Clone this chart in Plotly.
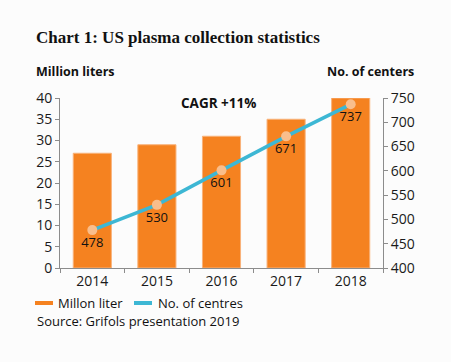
import plotly.graph_objects as go

years = ["2014", "2015", "2016", "2017", "2018"]
million_liters = [27, 29, 31, 35, 40]
centers = [478, 530, 601, 671, 737]
left_ticks = [0, 5, 10, 15, 20, 25, 30, 35, 40]
right_ticks = [400, 450, 500, 550, 600, 650, 700, 750]

ORANGE = "#F58220"
BLUE = "#3DB7D4"
PEACH = "#F9BE8C"
GREY = "#8C8C8C"
FONT = "Open Sans"

fig = go.Figure()
fig.add_trace(go.Bar(
    x=years, y=million_liters, name="Millon liter",
    marker=dict(color=ORANGE, line=dict(color="#F9B27A", width=1)),
    width=0.59, yaxis="y", hoverinfo="skip", showlegend=False,
))
fig.add_trace(go.Scatter(
    x=years, y=centers, name="No. of centres", yaxis="y2",
    mode="lines+markers+text",
    line=dict(color=BLUE, width=3.5),
    marker=dict(color=PEACH, size=10),
    text=[str(v) for v in centers], textposition="bottom center",
    textfont=dict(family=FONT, size=13, color="#111111"),
    hoverinfo="skip", showlegend=False, cliponaxis=False,
))

fig.update_layout(
    width=451, height=362,
    margin=dict(l=60, r=68, t=98, b=94),
    paper_bgcolor="#FCFCFC", plot_bgcolor="#FCFCFC",
    font=dict(family=FONT, size=14, color="#1a1a1a"),
    xaxis=dict(type="category", showline=True, linecolor=GREY, linewidth=1,
               ticks="outside", tickson="boundaries", ticklen=4, tickcolor=GREY,
               showgrid=False, tickfont=dict(size=14)),
    yaxis=dict(range=[0, 40], tickvals=left_ticks, showline=True, linecolor=GREY,
               ticks="outside", ticklen=4, tickcolor=GREY, showgrid=False,
               zeroline=False, tickfont=dict(size=14)),
    yaxis2=dict(range=[400, 750], tickvals=right_ticks, overlaying="y", side="right",
                showline=True, linecolor=GREY, ticks="outside", ticklen=4,
                tickcolor=GREY, showgrid=False, zeroline=False, tickfont=dict(size=14)),
    showlegend=False,
)

ann = [
    dict(text="<b>Chart 1: US plasma collection statistics</b>", x=34, y=38,
         font=dict(family="Liberation Serif", size=17, color="#111111"), xanchor="left"),
    dict(text="<b>Million liters</b>", x=34, y=71, font=dict(size=12.5, color="#111111"), xanchor="left"),
    dict(text="<b>No. of centers</b>", x=416, y=71, font=dict(size=12.5, color="#111111"), xanchor="right"),
    dict(text="<b>CAGR +11%</b>", x=218, y=103, font=dict(size=13.5, color="#111111"), xanchor="center"),
    dict(text="Millon liter", x=56, y=303, font=dict(size=13, color="#111111"), xanchor="left"),
    dict(text="No. of centres", x=156, y=303, font=dict(size=13, color="#111111"), xanchor="left"),
    dict(text="Source: Grifols presentation 2019", x=35, y=321, font=dict(size=13, color="#111111"), xanchor="left"),
]
for a in ann:
    fig.add_annotation(xref="paper", yref="paper",
                       x=(a["x"] - 60) / (451 - 60 - 68),
                       y=1 - (a["y"] - 98) / (362 - 98 - 94),
                       text=a["text"], showarrow=False, xanchor=a["xanchor"],
                       yanchor="middle", font=a["font"])

for x0, x1, c in [(35, 53, ORANGE), (134, 152, BLUE)]:
    fig.add_shape(type="rect", xref="paper", yref="paper",
                  x0=(x0 - 60) / 323, x1=(x1 - 60) / 323,
                  y0=1 - (305 - 98) / 170, y1=1 - (301 - 98) / 170,
                  fillcolor=c, line=dict(width=0))

fig.write_html("out.html", config={"displayModeBar": False},
               post_script="document.body.style.margin='0';document.body.style.background='#FCFCFC';")
